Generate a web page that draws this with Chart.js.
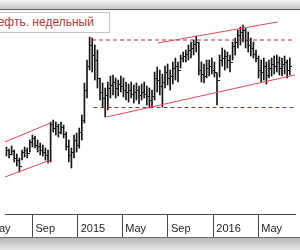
<!DOCTYPE html>
<html>
<head>
<meta charset="utf-8">
<script src="https://cdn.jsdelivr.net/npm/chart.js"></script>
<style>
  body { margin: 0; background: #fff; }
  #wrap { position: relative; width: 300px; height: 250px; overflow: hidden; }
  #topband { position: absolute; left: 0; top: 0; width: 300px; height: 9px;
    background: linear-gradient(#f4f4f4, #c6c6c6); border-bottom: 1px solid #5c5c5c; }
  #bottomband { position: absolute; left: 0; top: 237px; width: 300px; height: 13px;
    background: linear-gradient(#b9b9b9, #e8e8e8); border-top: 1px solid #6c6c6c; }
  #title { position: absolute; left: -14px; top: 12px; width: 124px; height: 21px; box-sizing: border-box;
    border: 1px solid #c4c4c4; background: #fff; padding-left: 2px;
    font: 12px "Liberation Sans", Arial, sans-serif; line-height: 19px; color: #b23a3a; white-space: nowrap; }
</style>
</head>
<body>
<div id="wrap">
  <canvas id="chart" width="300" height="250"></canvas>
  <div id="topband"></div>
  <div id="bottomband"></div>
  <div id="title">Нефть. недельный</div>
</div>
<script>
// weekly bars, index 0 = week of 23 Jun 2014
const high = [33.5,32.5,34,32,30,28,32,33.5,33,37,
  39.5,39,37,35.5,34.5,33,32,46,47,46,
  45,46,44.5,41,37,33,39.5,40.5,43,49.5,
  65.5,77,88.5,88,84.5,82,68,65.5,63,66,
  69,69.5,68,67,69,68,66,65,66,64.5,
  65.5,64,65,66,64,63,62,71,73.5,72,
  70,74,75,72,76,78,76,79.5,81,82,
  84.5,86,87,89,86,76,75,77,77,78,
  76,70.5,79.5,83,82,81,79.5,86,88,92,
  93.5,94.5,93,91,88,86,82,79,77,78,
  76,77,78,79,79.5,78.5,78,79,77,78];
const low = [29,28,29.5,26,24,21,27,28.5,28,31,
  33.5,33,31,29.5,29,27,25.5,26,41,39.5,
  38.5,40,38,32,26,23,28,31,33,37,
  45.5,58,72,71,67,63,57,53.5,48.5,52,
  58,59.5,58,59,61,58.5,57,56,58,55.5,
  57,55,57,58,54.5,53,53,57,61,59.5,
  53.5,63,64.5,62,65,67,66,73,76,76,
  77,78,79.5,81,69.5,66,65.5,68,69,70,
  68.5,54.5,68.5,74,72,73,71,77,79.5,83,
  84.5,86,83,81,79,78,76,68,66,67,
  65,68,69,70,71,69.5,69,70,68,69.5];
const close = [32,30,31.5,28,27,24,31,32,30.5,36,
  38,34.5,34,32,31,29.5,27,45,43,44,
  41,43.5,40,34,29.5,31,37,34.5,41,47,
  62,74,84.5,79.5,77,68,61,58,59.5,63,
  64.5,66,63,65,64,62,61,62,60,61,
  62,59.5,61,60,59,57,59,68,67,64,
  66,71,68,69,73,74,72,78,79,80,
  82,83,85,86,72,70,69,73,74,72,
  71,67,77,78,79,77,76,84,86,89.5,
  91,92,87,84.5,83,80,78,72,71,74,
  69.5,73,75,74,76,73,75,76,72,74];

// month boundaries (in weeks) and their labels
const tickWeeks = [-7.57, 10, 27.43, 44.57, 62.14, 79.57, 96.86];
const tickLabels = ['May', 'Sep', '2015', 'May', 'Sep', '2016', 'May'];

// drawn lines: [week, value] pairs
const channelLow = [[-0.55, 18.5], [16.93, 27]];
const channelHigh = [[-0.55, 36], [16.93, 45.5]];
const supportLine = [[38.5, 48.5], [111, 69.5]];
const resistLine = [[58.2, 85.5], [104.3, 96]];
const levelTop = [[32.9, 87], [111, 87]];
const levelBottom = [[33.5, 53.25], [111, 53.25]];

const weekMin = -0.55, weekMax = 111;

// little right-hand tick for the close
const closeTick = document.createElement('canvas');
closeTick.width = 5; closeTick.height = 1;
const tctx = closeTick.getContext('2d');
tctx.fillStyle = '#151515';
tctx.fillRect(3, 0, 2, 1);

function pts(arr) { return arr.map(p => ({x: p[0], y: p[1]})); }
function lineSet(arr, color, dash) {
  return { type: 'line', data: pts(arr), borderColor: color, borderWidth: 1, borderDash: dash || [],
    pointRadius: 0, fill: false, order: 0 };
}

const ctx = document.getElementById('chart').getContext('2d');
new Chart(ctx, {
  type: 'bar',
  data: {
    datasets: [
      { type: 'bar', data: high.map((h, i) => ({x: i, y: [low[i], h]})),
        backgroundColor: '#151515', barThickness: 1, order: 2 },
      { type: 'line', data: close.map((c, i) => ({x: i, y: c})), showLine: false,
        pointStyle: closeTick, pointRadius: 2, order: 1 },
      lineSet(channelLow, '#e0475c'),
      lineSet(channelHigh, '#e0475c'),
      lineSet(supportLine, '#e0475c'),
      lineSet(resistLine, '#e0475c'),
      lineSet(levelTop, '#9c3434', [4, 3]),
      lineSet(levelBottom, '#9c3434', [4, 3])
    ]
  },
  options: {
    responsive: false,
    animation: false,
    layout: { padding: { top: 12, bottom: 13, left: 0, right: 0 } },
    plugins: { legend: { display: false }, tooltip: { enabled: false } },
    scales: {
      x: {
        type: 'linear', min: weekMin, max: weekMax, offset: false,
        grid: { drawOnChartArea: false, offset: false, tickLength: 23, color: '#4a4a4a' },
        border: { color: '#4a4a4a' },
        afterBuildTicks: axis => { axis.ticks = tickWeeks.map(v => ({value: v})); },
        afterFit: axis => { axis.height = 23; axis.paddingLeft = 0; axis.paddingRight = 0; },
        ticks: {
          autoSkip: false, maxRotation: 0, align: 'start', labelOffset: 3, padding: -15,
          color: '#1e1e1e', font: { family: 'Liberation Sans', size: 11 },
          callback: v => tickLabels[tickWeeks.indexOf(v)]
        }
      },
      y: { display: false, min: 0, max: 101 }
    }
  }
});
</script>
</body>
</html>
